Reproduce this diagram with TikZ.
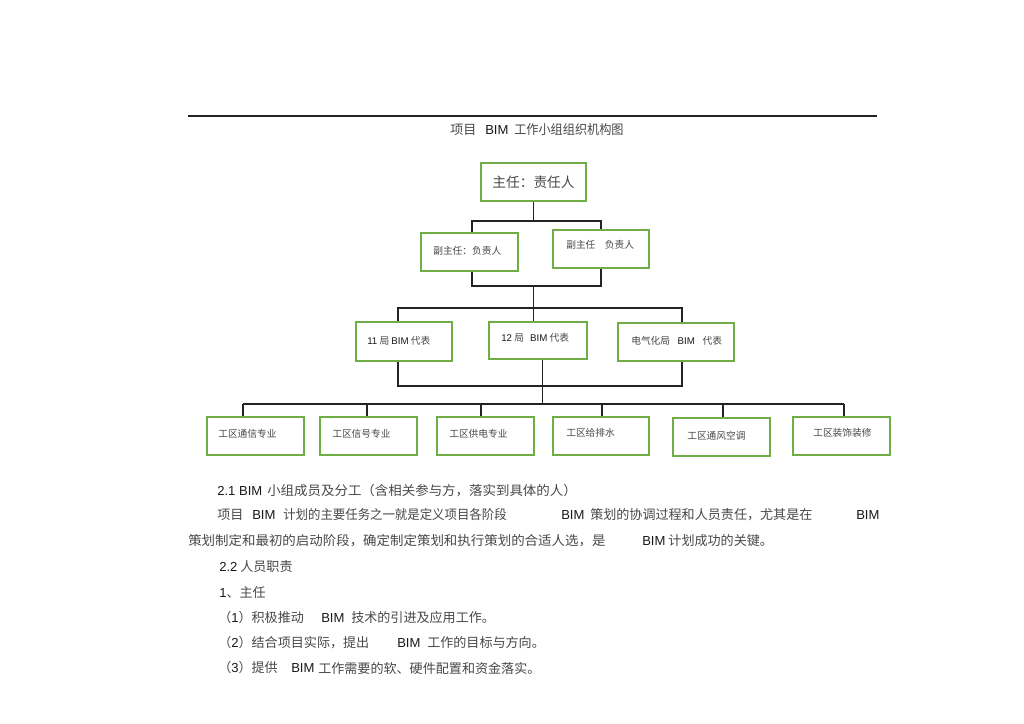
\documentclass[tikz,border=0pt]{standalone}
\usepackage{fontspec}
\setmainfont{Noto Sans CJK SC}
\newfontfamily\lat{Liberation Sans}
\definecolor{boxgreen}{RGB}{112,173,71}
\definecolor{txt}{RGB}{72,72,72}
\definecolor{latc}{RGB}{25,25,25}
\definecolor{ln}{RGB}{35,35,35}
\newcommand\Lt[1]{{\lat\color{latc}#1}}
\begin{document}
\begin{tikzpicture}[x=0.75pt,y=-0.75pt,
  box/.style={draw=boxgreen, line width=1.5pt, fill=white, inner sep=0, minimum height=38*0.75pt},
  conn/.style={draw=ln, line width=0.9pt},
  lbl/.style={anchor=west, inner sep=0, text=txt, font=\fontsize{7.3}{9}\selectfont},
  body/.style={anchor=west, inner sep=0, text=txt, font=\fontsize{9.8}{12}\selectfont},
]
\useasboundingbox (0,0) rectangle (1024,724);
\fill[white] (0,0) rectangle (1024,724);

% top rule and title
\coordinate (ruleL) at (188,116);
\coordinate (ruleR) at (877,116);
\draw[ln, line width=1pt] (ruleL) -- (ruleR);
\node[body] (tt1) at (450,130) {项目};
\node[body] (tt2) at (485,130) {\Lt{BIM}};
\node[body] (tt3) at (514,130) {\scalebox{0.93}[1]{工作小组组织机构图}};

% boxes
\node[box, minimum width=105*0.75pt] (main) at (533.5,182) {};
\node[box, minimum width=97*0.75pt] (dl) at (469.5,252) {};
\node[box, minimum width=96*0.75pt] (dr) at (601,249) {};
\node[box, minimum width=96*0.75pt, minimum height=39*0.75pt] (A) at (404,341.5) {};
\node[box, minimum width=98*0.75pt, minimum height=37*0.75pt] (B) at (538,340.5) {};
\node[box, minimum width=116*0.75pt] (C) at (676,342) {};
\node[box, minimum width=97*0.75pt] (b1) at (255.5,436) {};
\node[box, minimum width=97*0.75pt] (b2) at (368.5,436) {};
\node[box, minimum width=97*0.75pt] (b3) at (485.5,436) {};
\node[box, minimum width=96*0.75pt] (b4) at (601,436) {};
\node[box, minimum width=97*0.75pt] (b5) at (721.5,437) {};
\node[box, minimum width=97*0.75pt] (b6) at (841.5,436) {};

% connectors
\coordinate (r1l) at (472,221);
\coordinate (r1r) at (601,221);
\draw[conn] (main.south) -- (main.south |- r1l);
\draw[conn] (r1l |- dl.north) -- (r1l) -- (r1r) -- (r1r |- dr.north);
\coordinate (r2l) at (472,286);
\coordinate (r2r) at (601,286);
\coordinate (r2m) at (533.5,286);
\coordinate (r3m) at (533.5,308);
\draw[conn] (r2l |- dl.south) -- (r2l) -- (r2r) -- (r2r |- dr.south);
\draw[conn] (r2m) -- (r3m) -- (r3m |- B.north);
\coordinate (r3l) at (398,308);
\coordinate (r3r) at (682,308);
\draw[conn] (r3l |- A.north) -- (r3l) -- (r3r) -- (r3r |- C.north);
\coordinate (r4l) at (398,386);
\coordinate (r4r) at (682,386);
\coordinate (r4m) at (542.5,386);
\coordinate (r5m) at (542.5,404);
\draw[conn] (r4l |- A.south) -- (r4l) -- (r4r) -- (r4r |- C.south);
\draw[conn] (r4m |- B.south) -- (r4m) -- (r5m);
\coordinate (r5l) at (243,404);
\coordinate (r5r) at (844,404);
\draw[conn] (r5l) -- (r5r);
\foreach \n/\x in {b1/243,b2/367,b3/481,b4/602,b5/723,b6/844}{
  \coordinate (d\n) at (\x,404);
  \draw[conn] (d\n) -- (d\n |- \n.north);
}

% box labels
\node[anchor=center, inner sep=0, text=txt, font=\fontsize{10.3}{12}\selectfont] (main-t) at (533.5,182) {主任：责任人};
\node[lbl] (dl-t) at (433,251) {副主任：负责人};
\node[lbl] (dr-t) at (566,245) {副主任\hspace{7pt}负责人};
\node[lbl] (A-t) at (367,341) {\Lt{11} 局 \Lt{BIM} 代表};
\node[lbl] (B-t) at (501,338) {\Lt{12} 局\hspace{3pt} \Lt{BIM} 代表};
\node[lbl] (C-t) at (631,341) {电气化局\hspace{4pt} \Lt{BIM}\hspace{4pt} 代表};
\node[lbl] (b1-t) at (218,434) {工区通信专业};
\node[lbl] (b2-t) at (332,434) {工区信号专业};
\node[lbl] (b3-t) at (449,434) {工区供电专业};
\node[lbl] (b4-t) at (566,433) {工区给排水};
\node[lbl] (b5-t) at (687,436) {工区通风空调};
\node[lbl] (b6-t) at (813,433) {工区装饰装修};

% body text
\node[body] (l1a) at (217,491) {\Lt{2.1 BIM}};
\node[body] (l1b) at (267,491) {\scalebox{1.03}[1]{小组成员及分工（含相关参与方，落实到具体的人）}};
\node[body] (l2a) at (217,515) {项目};
\node[body] (l2b) at (252,515) {\Lt{BIM}};
\node[body] (l2c) at (283,515) {\scalebox{0.95}[1]{计划的主要任务之一就是定义项目各阶段}};
\node[body] (l2d) at (561,515) {\Lt{BIM}};
\node[body] (l2e) at (590,515) {策划的协调过程和人员责任，尤其是在};
\node[body] (l2f) at (856,515) {\Lt{BIM}};
\node[body] (l3a) at (188,541) {\scalebox{1.03}[1]{策划制定和最初的启动阶段，确定制定策划和执行策划的合适人选，是}};
\node[body] (l3b) at (642,541) {\Lt{BIM} 计划成功的关键。};
\node[body] (l4) at (219,567) {\Lt{2.2} 人员职责};
\node[body] (l5) at (219,593) {\Lt{1}、主任};
\node[body] (l6a) at (218,618) {（\Lt{1}）积极推动};
\node[body] (l6b) at (321,618) {\Lt{BIM}};
\node[body] (l6c) at (351,618) {技术的引进及应用工作。};
\node[body] (l7a) at (218,643) {（\Lt{2}）结合项目实际，提出};
\node[body] (l7b) at (397,643) {\Lt{BIM}};
\node[body] (l7c) at (427,643) {工作的目标与方向。};
\node[body] (l8a) at (218,668) {（\Lt{3}）提供};
\node[body] (l8b) at (291,668) {\Lt{BIM}};
\node[body] (l8c) at (318,668) {工作需要的软、硬件配置和资金落实。};
\end{tikzpicture}
\end{document}
